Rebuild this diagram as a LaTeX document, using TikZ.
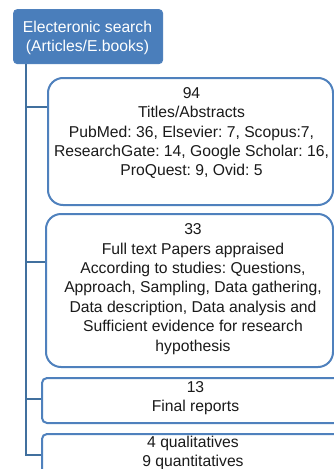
\documentclass[tikz,border=0pt]{standalone}
\usepackage{fontspec}
\setmainfont{Liberation Sans}
\definecolor{boxblue}{HTML}{4F81BD}
\definecolor{topfill}{HTML}{4A7EBB}
\definecolor{connblue}{HTML}{41709E}
\definecolor{txt}{HTML}{1A1A1A}
\frenchspacing
\begin{document}
\begin{tikzpicture}[x=1pt,y=-1pt,
  every node/.style={font=\fontsize{15.7pt}{19.4pt}\selectfont\frenchspacing, text=txt},
  frame/.style={draw=boxblue, line width=2pt, fill=white, inner sep=0pt, anchor=north west},
  bigframe/.style={frame, rounded corners=15pt},
  smallframe/.style={frame, rounded corners=5pt},
  topbox/.style={draw=boxblue, fill=topfill, line width=1.2pt, rounded corners=4pt, anchor=north west, inner sep=0pt, text=white, align=center},
  label/.style={align=center, inner sep=0pt},
  conn/.style={draw=connblue, line width=2pt}]
\useasboundingbox (0,0) rectangle (334,469);
\clip (0,0) rectangle (334,469);
\fill[white] (0,0) rectangle (334,469);
% top box
\node[topbox, minimum width=149pt, minimum height=54pt] (top) at (13,9) {};
\node[label, text=white] (ttop) at (87.5,38) {Electeronic search\\(Articles/E.books)};
% boxes
\node[bigframe, minimum width=285pt, minimum height=127pt] (b1) at (47,77) {};
\node[label] (t1) at (191.5,133) {94\\Titles/Abstracts\\PubMed: 36, Elsevier: 7, Scopus:7,\\ResearchGate: 14, Google Scholar: 16,\\ProQuest: 9, Ovid: 5};
\node[bigframe, minimum width=287pt, minimum height=153pt] (b2) at (45,213) {};
\node[label] (t2) at (193,289) {33\\Full text Papers appraised\\According to studies: Questions,\\Approach, Sampling, Data gathering,\\Data description, Data analysis and\\Sufficient evidence for research\\hypothesis};
\node[smallframe, minimum width=309pt, minimum height=45pt] (b3) at (41,377) {};
\node[label] (t3) at (195.5,398) {13\\Final reports};
\node[smallframe, minimum width=309pt, minimum height=60pt] (b4) at (41,433) {};
\node[label] (t4) at (193,453) {4 qualitatives\\9 quantitatives};
% connectors
\coordinate (j1) at (26,107);
\coordinate (j2) at (26,262);
\coordinate (j3) at (26,399);
\coordinate (j4) at (26,455);
\draw[conn] (top.south -| j1) -- (j4) -- (b4.west |- j4);
\draw[conn] (j1) -- (b1.west |- j1);
\draw[conn] (j2) -- (b2.west |- j2);
\draw[conn] (j3) -- (b3.west |- j3);
\end{tikzpicture}
\end{document}
